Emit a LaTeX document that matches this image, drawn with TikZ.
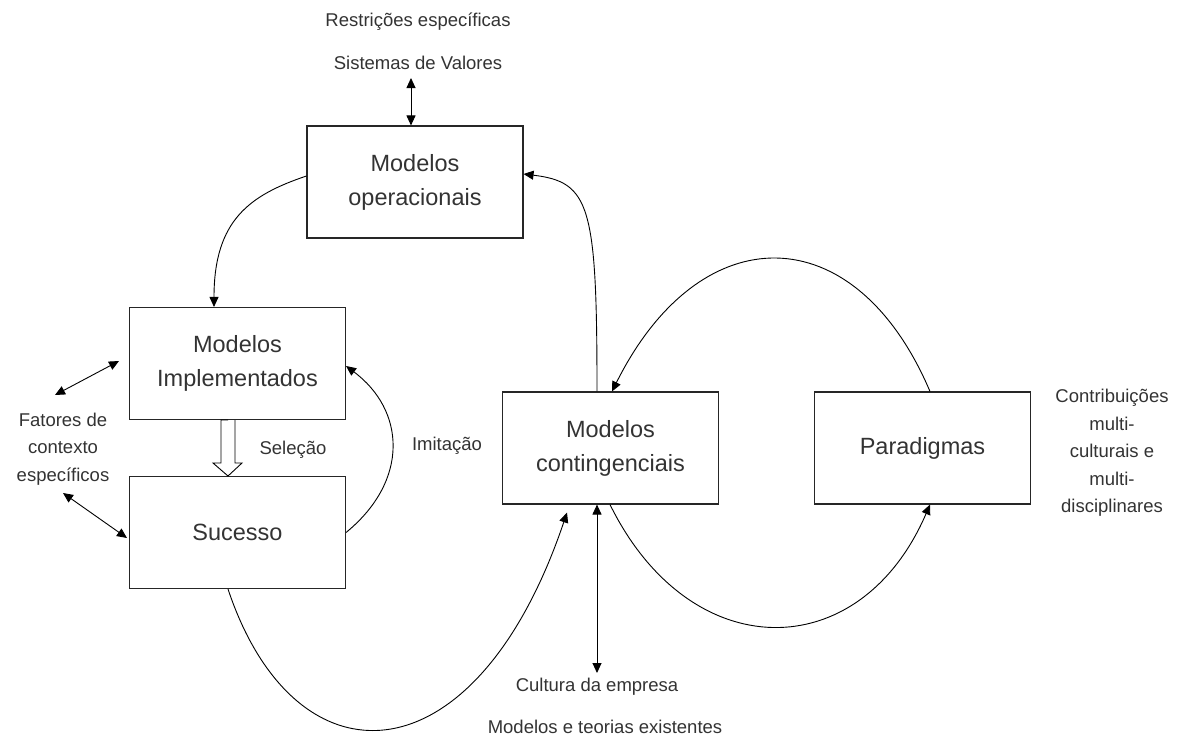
\documentclass[tikz,border=0pt]{standalone}
\usepackage{fontspec}
\setmainfont{Liberation Sans}
\usetikzlibrary{arrows.meta,calc}
\begin{document}
\begin{tikzpicture}[x=1pt,y=-1pt,
  box/.style={draw=black!85,line width=1.1pt,minimum width=216pt,minimum height=112pt,
    inner sep=0pt,align=center,font=\fontsize{23.5}{34}\selectfont,text=black!80},
  lbl/.style={align=center,inner sep=0pt,font=\fontsize{18.5}{27.5}\selectfont,text=black!80},
  tip/.style={-{Triangle[length=10pt,width=9pt]}},
  conn/.style={line width=0.9pt,tip},
  both/.style={line width=0.9pt,{Triangle[length=10pt,width=9pt]}-{Triangle[length=10pt,width=9pt]}}]
\useasboundingbox (0,0) rectangle (1189,737);

% boxes
\node[box] (op)   at (415,182)   {Modelos\\operacionais};
\node[box] (impl) at (237.5,363.5) {Modelos\\Implementados};
\node[box] (suc)  at (237.5,532.5) {Sucesso};
\node[box] (cont) at (610.5,448) {Modelos\\contingenciais};
\node[box] (para) at (922.5,448) {Paradigmas};

% free labels
\node[lbl] (rest) at (418,22)  {Restrições específicas};
\node[lbl] (sist) at (418,63)  {Sistemas de Valores};
\node[lbl] (fat)  at (63,449)  {Fatores de\\contexto\\específicos};
\node[lbl] (sel)  at (293,450) {Seleção};
\node[lbl] (imit) at (447,446) {Imitação};
\node[lbl] (contr) at (1112,453) {Contribuições\\multi-\\culturais e\\multi-\\disciplinares};
\node[lbl] (cult) at (597,687) {Cultura da empresa};
\node[lbl] (teor) at (605,727) {Modelos e teorias existentes};

% free ends of the short connectors
\coordinate (sa) at (411,78);
\coordinate (fa) at (119,361);
\coordinate (fb) at (55,395);
\coordinate (fc) at (63,493);
\coordinate (fd) at (127,538);
\coordinate (ca) at (597,673);
\coordinate (ha) at (228,420);

% value systems <-> operational models
\draw[both] (sa) -- (sa |- op.north);

% context factors
\draw[both] (fa) -- (fb);
\draw[both] (fc) -- (fd);

% operational -> implemented
\draw[conn] ([yshift=6pt]op.west) .. controls (250,195) and (214,220) .. ([xshift=-23.5pt]impl.north);

% selection: hollow block arrow
\draw[line width=0.9pt,line join=miter] (ha) -- ++(-7,0) -- ++(0,43) -- ++(-8,0) -- ++(15,13)
  -- ++(14,-13) -- ++(-7,0) -- ++(0,-43);

% imitation: success -> implemented
\draw[conn] (suc.east) .. controls (410,480) and (405,410) .. ([yshift=-2.5pt]impl.east);

% contingency -> operational
\draw[conn] (cont.north -| ca) .. controls (597,205) and (590,182) .. ([yshift=8pt]op.east);

% paradigms -> contingency
\draw[conn] ([xshift=7.5pt]para.north) .. controls (855,215) and (700,215) .. ([xshift=1.5pt]cont.north);

% contingency -> paradigms
\draw[conn] ([xshift=-0.5pt]cont.south) .. controls (690,667) and (860,667) .. ([xshift=7.5pt]para.south);

% success -> contingency
\draw[conn] ([xshift=-9.5pt]suc.south) .. controls (295,790) and (475,785) .. ([xshift=-43.5pt,yshift=-8pt]cont.south);

% company culture <-> contingency
\draw[both] (cont.south -| ca) -- (ca);
\end{tikzpicture}
\end{document}
